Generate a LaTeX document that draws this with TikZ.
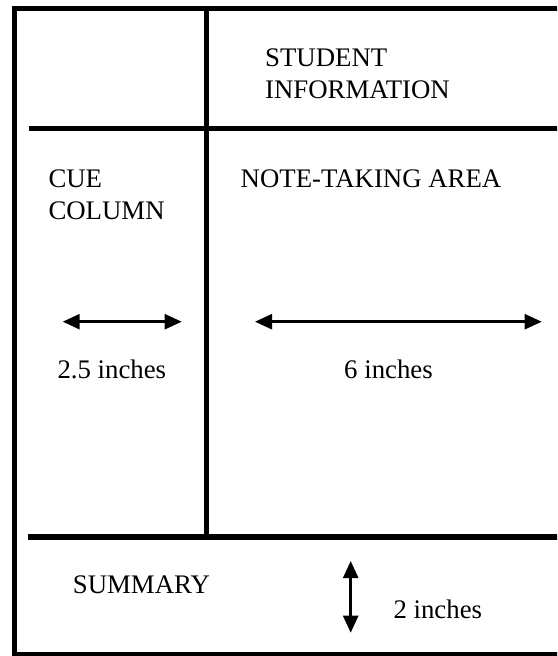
\documentclass[tikz,border=0pt]{standalone}
\usepackage{fontspec}
\setmainfont{Liberation Serif}
\usetikzlibrary{arrows.meta}
\begin{document}
\begin{tikzpicture}[x=1pt,y=-1pt,
  rule/.style={line width=5.5pt,black},
  dimarrow/.style={line width=2.5pt,{Triangle[length=17pt,width=15pt]}-{Triangle[length=17pt,width=15pt]}},
  label/.style={inner sep=0pt,font=\fontsize{26.8}{32}\selectfont},
]
\useasboundingbox (0,0) rectangle (557,656);
\clip (0,0) rectangle (557,656);
% frame
\coordinate (tl) at (14.5,8.5);
\coordinate (tr) at (562,8.5);
\coordinate (bl) at (14.5,655);
\coordinate (br) at (562,655);
\draw[rule] (tr) -- (tl) -- (bl) -- (br) -- cycle;
% grid lines
\coordinate (h1a) at (29,128.5);
\coordinate (h1b) at (562,128.5);
\coordinate (h2a) at (28,537);
\coordinate (h2b) at (562,537);
\coordinate (v1a) at (206.5,8.5);
\coordinate (v1b) at (206.5,537);
\draw[rule] (h1a) -- (h1b);
\draw[rule] (h2a) -- (h2b);
\draw[rule] (v1a) -- (v1b);
% texts
\node[label,anchor=north west,align=left] (stud) at (265,48.5) {STUDENT\\INFORMATION};
\node[label,anchor=north west,align=left] (cue) at (48.3,169.5) {CUE\\COLUMN};
\node[label,anchor=base west] (note) at (240.5,187) {NOTE-TAKING AREA};
\node[label,anchor=base west] (w1) at (57.3,378.3) {2.5 inches};
\node[label,anchor=base west] (w2) at (344,378.3) {6 inches};
\node[label,anchor=base west] (sum) at (72.7,593.3) {SUMMARY};
\node[label,anchor=base west] (w3) at (393.3,618.3) {2 inches};
% dimension arrows
\coordinate (a1l) at (62.7,321.7);
\coordinate (a1r) at (181.7,321.7);
\coordinate (a2l) at (255,321.7);
\coordinate (a2r) at (541.7,321.7);
\coordinate (a3t) at (350.7,561);
\coordinate (a3b) at (350.7,632.7);
\draw[dimarrow] (a1l) -- (a1r);
\draw[dimarrow] (a2l) -- (a2r);
\draw[dimarrow] (a3t) -- (a3b);
\end{tikzpicture}
\end{document}
